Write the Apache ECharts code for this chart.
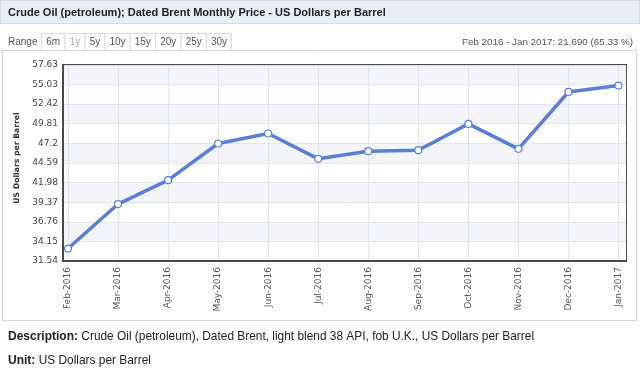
<!DOCTYPE html>
<html>
<head>
<meta charset="utf-8">
<script src="https://cdn.jsdelivr.net/npm/echarts@6/dist/echarts.min.js"></script>
<style>
html,body{margin:0;padding:0;background:#fff;}
#chart{width:640px;height:374px;}
</style>
</head>
<body>
<div id="chart"></div>
<script>
// ---- data ----
var months = ['Feb-2016','Mar-2016','Apr-2016','May-2016','Jun-2016','Jul-2016','Aug-2016','Sep-2016','Oct-2016','Nov-2016','Dec-2016','Jan-2017'];
var prices = [33.20, 39.12, 42.30, 47.18, 48.51, 45.14, 46.16, 46.29, 49.79, 46.47, 54.04, 54.89];
var yTicks = [31.54, 34.15, 36.76, 39.37, 41.98, 44.59, 47.2, 49.81, 52.42, 55.03, 57.63];
var rangeButtons = ['6m','1y','5y','10y','15y','20y','25y','30y'];
var titleText = 'Crude Oil (petroleum); Dated Brent Monthly Price - US Dollars per Barrel';
var summaryText = 'Feb 2016 - Jan 2017: 21.690 (65.33 %)';
var axisName = 'US Dollars per Barrel';
var descriptionText = 'Crude Oil (petroleum), Dated Brent, light blend 38 API, fob U.K., US Dollars per Barrel';
var unitText = 'US Dollars per Barrel';

var FONT = '"Liberation Sans", Arial, sans-serif';
var AXFONT = '"DejaVu Sans", Verdana, sans-serif';

var chart = echarts.init(document.getElementById('chart'), null, {renderer: 'canvas'});

var xIdx = months.map(function (m, i) { return i; });
var seriesData = months.map(function (m, i) { return [i, prices[i]]; });

// range buttons
var btnEdges = [41, 64.5, 84.5, 104.5, 129.5, 155, 180.5, 206, 231];
var graphics = [
  {type: 'rect', z: -10, shape: {x: 0, y: 0, width: 640, height: 24}, style: {fill: '#e8edf6'}},
  {type: 'rect', z: -10, shape: {x: 0.5, y: 0.5, width: 639, height: 23}, style: {fill: 'none', stroke: '#d5dbe6', lineWidth: 1}},
  {type: 'text', style: {text: titleText, x: 8, y: 12.5, fill: '#222', font: 'bold 11px ' + FONT, textAlign: 'left', textVerticalAlign: 'middle', align: 'left', verticalAlign: 'middle'}},
  {type: 'rect', z: -10, shape: {x: 2.5, y: 50.5, width: 634, height: 270}, style: {fill: '#fff', stroke: '#d3d3d3', lineWidth: 1}},
  {type: 'text', style: {text: 'Range', x: 8, y: 42, fill: '#555', font: '10px ' + FONT, textAlign: 'left', textVerticalAlign: 'middle', align: 'left', verticalAlign: 'middle'}},
  {type: 'text', style: {text: summaryText, x: 633, y: 42.5, fill: '#555', font: '9.8px ' + FONT, textAlign: 'right', textVerticalAlign: 'middle', align: 'right', verticalAlign: 'middle'}},
  {type: 'text', style: {text: '{b|Description:} {r|' + descriptionText + '}', x: 8, y: 336.5, fill: '#222', font: '12px ' + FONT, textAlign: 'left', textVerticalAlign: 'middle', align: 'left', verticalAlign: 'middle',
    rich: {b: {fontWeight: 'bold', fontSize: 12, fontFamily: FONT, fill: '#222'}, r: {fontSize: 11.9, fontFamily: FONT, fill: '#222'}}}},
  {type: 'text', style: {text: '{b|Unit:} {r|' + unitText + '}', x: 8, y: 361, fill: '#222', font: '12px ' + FONT, textAlign: 'left', textVerticalAlign: 'middle', align: 'left', verticalAlign: 'middle',
    rich: {b: {fontWeight: 'bold', fontSize: 12, fontFamily: FONT, fill: '#222'}, r: {fontSize: 11.9, fontFamily: FONT, fill: '#222'}}}}
];
rangeButtons.forEach(function (b, i) {
  var x0 = btnEdges[i], x1 = btnEdges[i + 1];
  graphics.push({type: 'rect', z: -5, shape: {x: x0 + 0.5, y: 33.5, width: x1 - x0, height: 17}, style: {fill: '#fff', stroke: '#dcdcdc', lineWidth: 1}});
  graphics.push({type: 'text', style: {text: b, x: (x0 + x1) / 2 + 0.5, y: 42, fill: b === '1y' ? '#aaa' : '#555', font: '10px ' + FONT, textAlign: 'center', textVerticalAlign: 'middle', align: 'center', verticalAlign: 'middle'}});
});

chart.setOption({
  animation: false,
  backgroundColor: '#fff',
  graphic: graphics,
  grid: {left: 63, right: 14, top: 65, bottom: 113, show: true, borderColor: '#4a4a4a', borderWidth: 2, backgroundColor: 'transparent', containLabel: false},
  xAxis: {
    type: 'value', min: -0.1, max: 11.15,
    axisLine: {show: true, onZero: false, lineStyle: {color: '#4a4a4a', width: 2}},
    axisTick: {show: false, customValues: xIdx},
    splitLine: {show: true, lineStyle: {color: '#dfe6f2', width: 1}},
    axisLabel: {
      customValues: xIdx,
      rotate: 90, margin: 6, color: '#555', fontSize: 9, fontFamily: AXFONT,
      formatter: function (v) { return months[Math.round(v)] || ''; }
    }
  },
  yAxis: {
    type: 'value', min: yTicks[0], max: yTicks[yTicks.length - 1],
    name: axisName, nameLocation: 'middle', nameRotate: 90, nameGap: 42,
    nameTextStyle: {fontWeight: 'bold', fontSize: 7.7, fontFamily: AXFONT, color: '#333', padding: [0, 0, 0, 10]},
    axisLine: {show: true, onZero: false, lineStyle: {color: '#4a4a4a', width: 2}},
    axisTick: {show: false, customValues: yTicks},
    axisLabel: {customValues: yTicks, color: '#444', fontSize: 9, fontFamily: AXFONT, margin: 5,
      formatter: function (v) { return String(Math.round(v * 100) / 100); }},
    splitLine: {show: true, lineStyle: {color: '#dfe6f2', width: 1}},
    splitArea: {show: true, areaStyle: {color: ['#ffffff', '#f3f5fb']}}
  },
  series: [{
    type: 'line',
    data: seriesData,
    symbol: 'circle', symbolSize: 7,
    lineStyle: {color: '#5a7fd8', width: 3.5},
    itemStyle: {color: '#fff', borderColor: '#5a7fd8', borderWidth: 1.2},
    z: 5
  }]
});
</script>
</body>
</html>
